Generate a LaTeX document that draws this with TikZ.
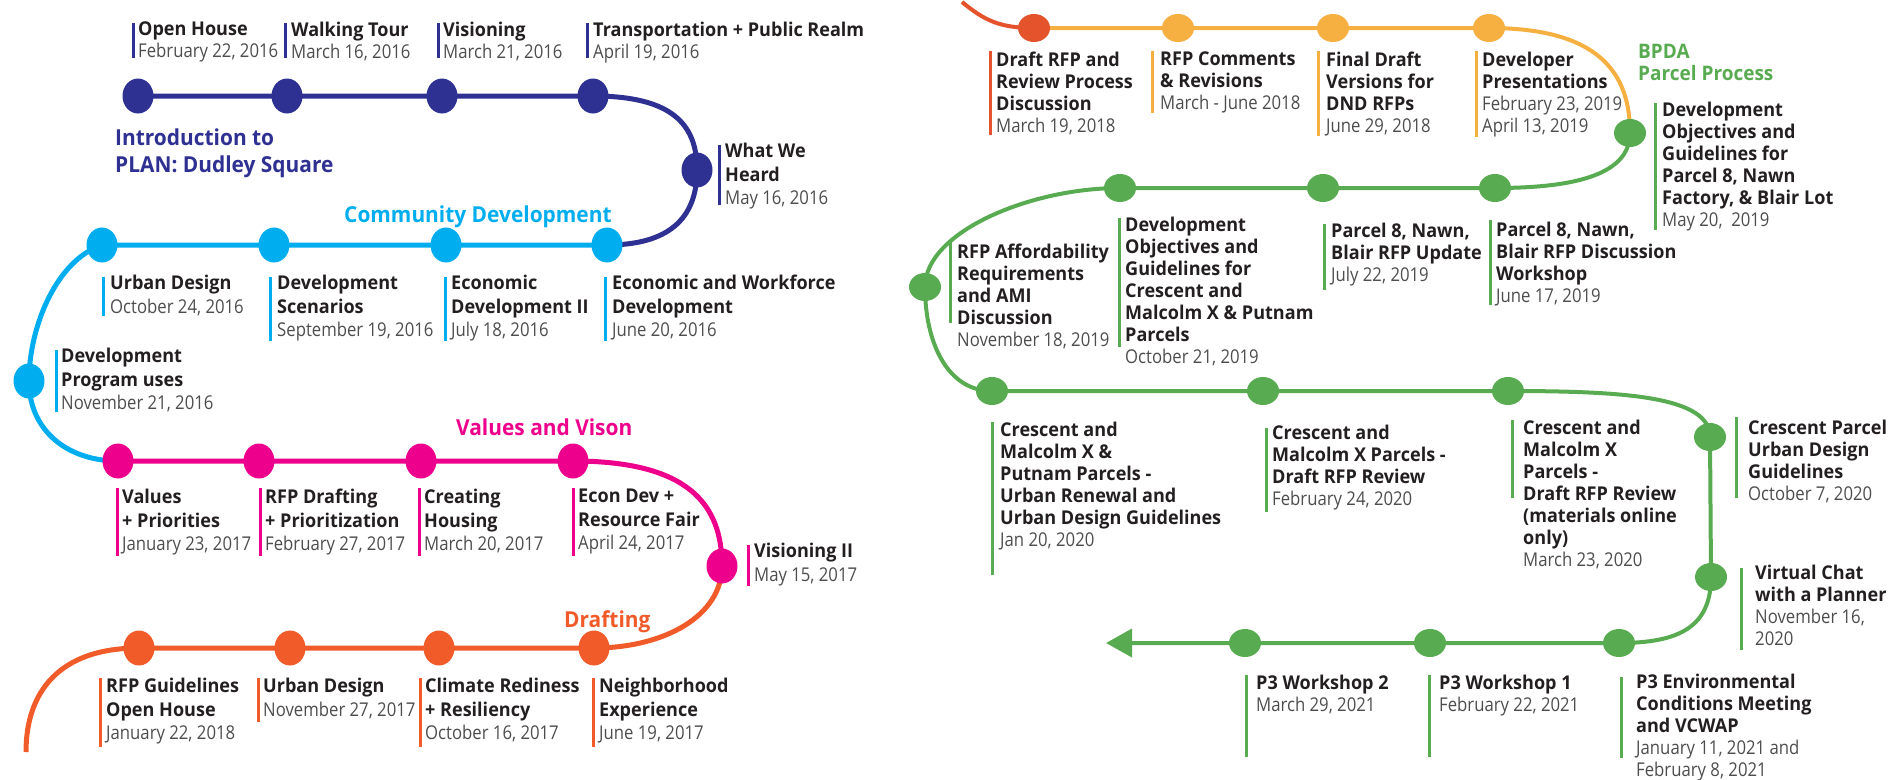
\documentclass[tikz,border=0pt]{standalone}
\usepackage{fontspec}
\usetikzlibrary{shapes.geometric,arrows.meta}
\newfontfamily\cf{Open Sans}[FakeStretch=0.95]
\newfontfamily\df{Open Sans}[FakeStretch=0.88]
\definecolor{cnavy}{HTML}{2E3192}
\definecolor{ccyan}{HTML}{00AEEF}
\definecolor{cpink}{HTML}{EC008C}
\definecolor{corange}{HTML}{F15A29}
\definecolor{cred}{HTML}{E4532B}
\definecolor{cyellow}{HTML}{F5B041}
\definecolor{cgreen}{HTML}{58AB50}
\definecolor{ctext}{HTML}{231F20}
\definecolor{cdate}{HTML}{4D4D4D}
\pgfdeclarelayer{bg}\pgfsetlayers{bg,main}
\newcommand\dd[1]{{\df\mdseries\color{cdate}#1}}
\tikzset{
  dotL/.style={ellipse, fill=#1, draw=none, minimum width=31pt, minimum height=35pt, inner sep=0pt},
  dotR/.style={ellipse, fill=#1, draw=none, minimum width=32pt, minimum height=28pt, inner sep=0pt},
  txt/.style={anchor=north west, yshift=16pt, align=left, inner sep=0pt, text=ctext,
    execute at begin node={\rule{0pt}{16pt}}},
  lblT/.style={txt, font=\cf\bfseries\fontsize{19}{21.5}\selectfont},
  lblL/.style={txt, font=\cf\bfseries\fontsize{19}{23.5}\selectfont},
  lblR/.style={txt, font=\cf\bfseries\fontsize{19}{22}\selectfont},
  head/.style={txt, text=#1, font=\cf\bfseries\fontsize{22}{27}\selectfont},
  headR/.style={txt, text=#1, font=\cf\bfseries\fontsize{20}{22}\selectfont},
  bar/.style={line width=3pt, draw=#1},
  trackL/.style={line width=5pt, draw=#1},
  trackR/.style={line width=4pt, draw=#1},
}
\begin{document}
\begin{tikzpicture}[x=1pt,y=-1pt]
\useasboundingbox (0,0) rectangle (1895,779);

% ---------------- LEFT PANEL: dots ----------------
\node[dotL=cnavy] (n1) at (138,96) {};
\node[dotL=cnavy] (n2) at (287,96) {};
\node[dotL=cnavy] (n3) at (442,96) {};
\node[dotL=cnavy] (n4) at (593,96) {};
\node[dotL=cnavy] (n5) at (697,170) {};
\node[dotL=ccyan] (c4) at (607,245) {};
\node[dotL=ccyan] (c3) at (446,245) {};
\node[dotL=ccyan] (c2) at (274,245) {};
\node[dotL=ccyan] (c1) at (102,245) {};
\node[dotL=ccyan] (c5) at (29,381) {};
\node[dotL=cpink] (p1) at (118,461) {};
\node[dotL=cpink] (p2) at (259,461) {};
\node[dotL=cpink] (p3) at (421,461) {};
\node[dotL=cpink] (p4) at (573,461) {};
\node[dotL=cpink] (p5) at (722,566) {};
\node[dotL=corange] (o4) at (594,648) {};
\node[dotL=corange] (o3) at (439,648) {};
\node[dotL=corange] (o2) at (290,648) {};
\node[dotL=corange] (o1) at (139,648) {};
\coordinate (oend) at (26,752);

% ---------------- RIGHT PANEL: dots ----------------
\coordinate (rin) at (962,2);
\node[dotR=cred] (r0) at (1034,28) {};
\node[dotR=cyellow] (y1) at (1178,28) {};
\node[dotR=cyellow] (y2) at (1333,28) {};
\node[dotR=cyellow] (y3) at (1489,28) {};
\node[dotR=cgreen] (g0) at (1630,133) {};
\node[dotR=cgreen] (h1) at (1495,188) {};
\node[dotR=cgreen] (h2) at (1323,188) {};
\node[dotR=cgreen] (h3) at (1120,188) {};
\node[dotR=cgreen] (g4) at (925,287) {};
\node[dotR=cgreen] (k1) at (992,391) {};
\node[dotR=cgreen] (k2) at (1263,391) {};
\node[dotR=cgreen] (k3) at (1508,391) {};
\node[dotR=cgreen] (k4) at (1710,437) {};
\node[dotR=cgreen] (k5) at (1711,577) {};
\node[dotR=cgreen] (m1) at (1619,643) {};
\node[dotR=cgreen] (m2) at (1430,643) {};
\node[dotR=cgreen] (m3) at (1245,643) {};
\coordinate (mend) at (1106,643);

% ---------------- tracks ----------------
\begin{pgfonlayer}{bg}
\draw[trackL=cnavy] (n1.center) -- (n2.center) -- (n3.center) -- (n4.center)
  .. controls +(80,0) and +(0,-45) .. (n5.center)
  .. controls +(0,50) and +(60,0) .. (c4.center);
\draw[trackL=ccyan] (c4.center) -- (c3.center) -- (c2.center) -- (c1.center)
  .. controls +(-45,15) and +(0,-55) .. (c5.center)
  .. controls +(0,50) and +(-50,0) .. (p1.center);
\draw[trackL=cpink] (p1.center) -- (p2.center) -- (p3.center) -- (p4.center)
  .. controls +(115,0) and +(0,-62) .. (p5.center);
\draw[trackL=corange] (p5.center) .. controls +(0,50) and +(70,0) .. (o4.center)
  -- (o3.center) -- (o2.center) -- (o1.center)
  .. controls +(-80,0) and +(0,-60) .. (oend);
\draw[trackR=cred] (rin) .. controls +(22,18) and +(-35,0) .. (r0.center);
\draw[trackR=cyellow] (r0.center) -- (y1.center) -- (y2.center) -- (y3.center)
  .. controls +(110,0) and +(0,-60) .. (g0.center);
\draw[trackR=cgreen, -{Triangle[length=26pt,width=28pt]}] (g0.center)
  .. controls +(0,45) and +(70,0) .. (h1.center) -- (h2.center) -- (h3.center)
  .. controls +(-90,0) and +(0,-55) .. (g4.center)
  .. controls +(0,55) and +(-45,0) .. (k1.center) -- (k2.center) -- (k3.center)
  .. controls +(120,0) and +(0,-40) .. (k4.center) -- (k5.center)
  .. controls +(0,50) and +(60,0) .. (m1.center) -- (m2.center) -- (m3.center) -- (mend);
\end{pgfonlayer}

% ---------------- LEFT PANEL: headings ----------------
\node[head=cnavy] (hIntro) at (115,145) {Introduction to\\PLAN: Dudley Square};
\node[head=ccyan] (hComm) at (344,222) {Community Development};
\node[head=cpink] (hVal) at (456,435) {Values and Vison};
\node[head=corange] (hDraft) at (564,626) {Drafting};

% ---------------- LEFT PANEL: labels ----------------
\draw[bar=cnavy] (133,23) -- (133,58);
\node[lblT] (lOpen) at (138,38) {Open House\\\dd{February 22, 2016}};
\draw[bar=cnavy] (285,23) -- (285,58);
\node[lblT] (lWalk) at (291,38) {Walking Tour\\\dd{March 16, 2016}};
\draw[bar=cnavy] (438,23) -- (438,58);
\node[lblT] (lVis) at (443,38) {Visioning\\\dd{March 21, 2016}};
\draw[bar=cnavy] (587,23) -- (587,58);
\node[lblT] (lTrans) at (593,38) {Transportation + Public Realm\\\dd{April 19, 2016}};
\draw[bar=cnavy] (719,145) -- (719,205);
\node[lblL] (lHeard) at (725,159) {What We\\Heard\\\dd{May 16, 2016}};

\draw[bar=ccyan] (103,277) -- (103,316);
\node[lblL] (lUD1) at (110,291) {Urban Design\\\dd{October 24, 2016}};
\draw[bar=ccyan] (270,277) -- (270,341);
\node[lblL] (lScen) at (277,291) {Development\\Scenarios\\\dd{September 19, 2016}};
\draw[bar=ccyan] (445,277) -- (445,341);
\node[lblL] (lEcon) at (451,291) {Economic\\Development II\\\dd{July 18, 2016}};
\draw[bar=ccyan] (605,277) -- (605,341);
\node[lblL] (lWork) at (612,291) {Economic and Workforce\\Development\\\dd{June 20, 2016}};
\draw[bar=ccyan] (56,350) -- (56,412);
\node[lblL] (lProg) at (61,364) {Development\\Program uses\\\dd{November 21, 2016}};

\draw[bar=cpink] (117,488) -- (117,556);
\node[lblL] (lValP) at (122,505) {Values\\+ Priorities\\\dd{January 23, 2017}};
\draw[bar=cpink] (260,488) -- (260,556);
\node[lblL] (lRFPD) at (265,505) {RFP Drafting\\+ Prioritization\\\dd{February 27, 2017}};
\draw[bar=cpink] (419,488) -- (419,556);
\node[lblL] (lHous) at (424,505) {Creating\\Housing\\\dd{March 20, 2017}};
\draw[bar=cpink] (573,488) -- (573,556);
\node[lblL] (lFair) at (578,505) {Econ Dev +\\Resource Fair\\\dd{April 24, 2017}};
\draw[bar=cpink] (748,545) -- (748,586);
\node[lblL] (lVis2) at (754,559) {Visioning II\\\dd{May 15, 2017}};

\draw[bar=corange] (100,678) -- (100,747);
\node[lblL] (lGuide) at (106,694) {RFP Guidelines\\Open House\\\dd{January 22, 2018}};
\draw[bar=corange] (258,678) -- (258,722);
\node[lblL] (lUD2) at (263,694) {Urban Design\\\dd{November 27, 2017}};
\draw[bar=corange] (420,678) -- (420,747);
\node[lblL] (lClim) at (425,694) {Climate Rediness\\+ Resiliency\\\dd{October 16, 2017}};
\draw[bar=corange] (593,678) -- (593,747);
\node[lblL] (lNeigh) at (599,694) {Neighborhood\\Experience\\\dd{June 19, 2017}};

% ---------------- RIGHT PANEL: labels ----------------
\node[headR=cgreen] (hBPDA) at (1638,60) {BPDA\\Parcel Process};

\draw[bar=cred] (990,51) -- (990,135);
\node[lblR] (rDraft) at (996,68) {Draft RFP and\\Review Process\\Discussion\\\dd{March 19, 2018}};
\draw[bar=cyellow] (1152,51) -- (1152,113);
\node[lblR] (rComm) at (1160,68) {RFP Comments\\\& Revisions\\\dd{March - June 2018}};
\draw[bar=cyellow] (1318,51) -- (1318,136);
\node[lblR] (rFinal) at (1326,68) {Final Draft\\Versions for\\DND RFPs\\\dd{June 29, 2018}};
\draw[bar=cyellow] (1476,51) -- (1476,137);
\node[lblR] (rDev) at (1482,68) {Developer\\Presentations\\\dd{February 23, 2019}\\\dd{April 13, 2019}};

\draw[bar=cgreen] (1655,103) -- (1655,230);
\node[lblR] (rObj8) at (1662,118) {Development\\Objectives and\\Guidelines for\\Parcel 8, Nawn\\Factory, \& Blair Lot\\\dd{May 20,\ \ 2019}};
\draw[bar=cgreen] (950,242) -- (950,323);
\node[lblR] (rAfford) at (957,260) {RFP Affordability\\Requirements\\and AMI\\Discussion\\\dd{November 18, 2019}};
\draw[bar=cgreen] (1119,218) -- (1119,347);
\node[lblR] (rObjC) at (1125,233) {Development\\Objectives and\\Guidelines for\\Crescent and\\Malcolm X \& Putnam\\Parcels\\\dd{October 21, 2019}};
\draw[bar=cgreen] (1324,224) -- (1324,290);
\node[lblR] (rUpd) at (1331,239) {Parcel 8, Nawn,\\Blair RFP Update\\\dd{July 22, 2019}};
\draw[bar=cgreen] (1490,220) -- (1490,305);
\node[lblR] (rDisc) at (1496,238) {Parcel 8, Nawn,\\Blair RFP Discussion\\Workshop\\\dd{June 17, 2019}};

\draw[bar=cgreen] (992,422) -- (992,575);
\node[lblR] (rUrb) at (1000,438) {Crescent and\\Malcolm X \&\\Putnam Parcels -\\Urban Renewal and\\Urban Design Guidelines\\\dd{Jan 20, 2020}};
\draw[bar=cgreen] (1266,428) -- (1266,512);
\node[lblR] (rFeb) at (1272,441) {Crescent and\\Malcolm X Parcels -\\Draft RFP Review\\\dd{February 24, 2020}};
\draw[bar=cgreen] (1512,420) -- (1512,498);
\node[lblR] (rMar) at (1523,436) {Crescent and\\Malcolm X\\Parcels -\\Draft RFP Review\\(materials online\\only)\\\dd{March 23, 2020}};
\draw[bar=cgreen] (1736,417) -- (1736,498);
\node[lblR] (rCres) at (1748,436) {Crescent Parcel\\Urban Design\\Guidelines\\\dd{October 7, 2020}};
\draw[bar=cgreen] (1741,568) -- (1741,650);
\node[lblR] (rChat) at (1755,581) {Virtual Chat\\with a Planner\\\dd{November 16,}\\\dd{2020}};

\draw[bar=cgreen] (1246,675) -- (1246,757);
\node[lblR] (rW2) at (1256,691) {P3 Workshop 2\\\dd{March 29, 2021}};
\draw[bar=cgreen] (1429,675) -- (1429,757);
\node[lblR] (rW1) at (1439,691) {P3 Workshop 1\\\dd{February 22, 2021}};
\draw[bar=cgreen] (1621,677) -- (1621,758);
\node[lblR] (rEnv) at (1636,690) {P3 Environmental\\Conditions Meeting\\and VCWAP\\\dd{January 11, 2021 and}\\\dd{February 8, 2021}};
\end{tikzpicture}
\end{document}
